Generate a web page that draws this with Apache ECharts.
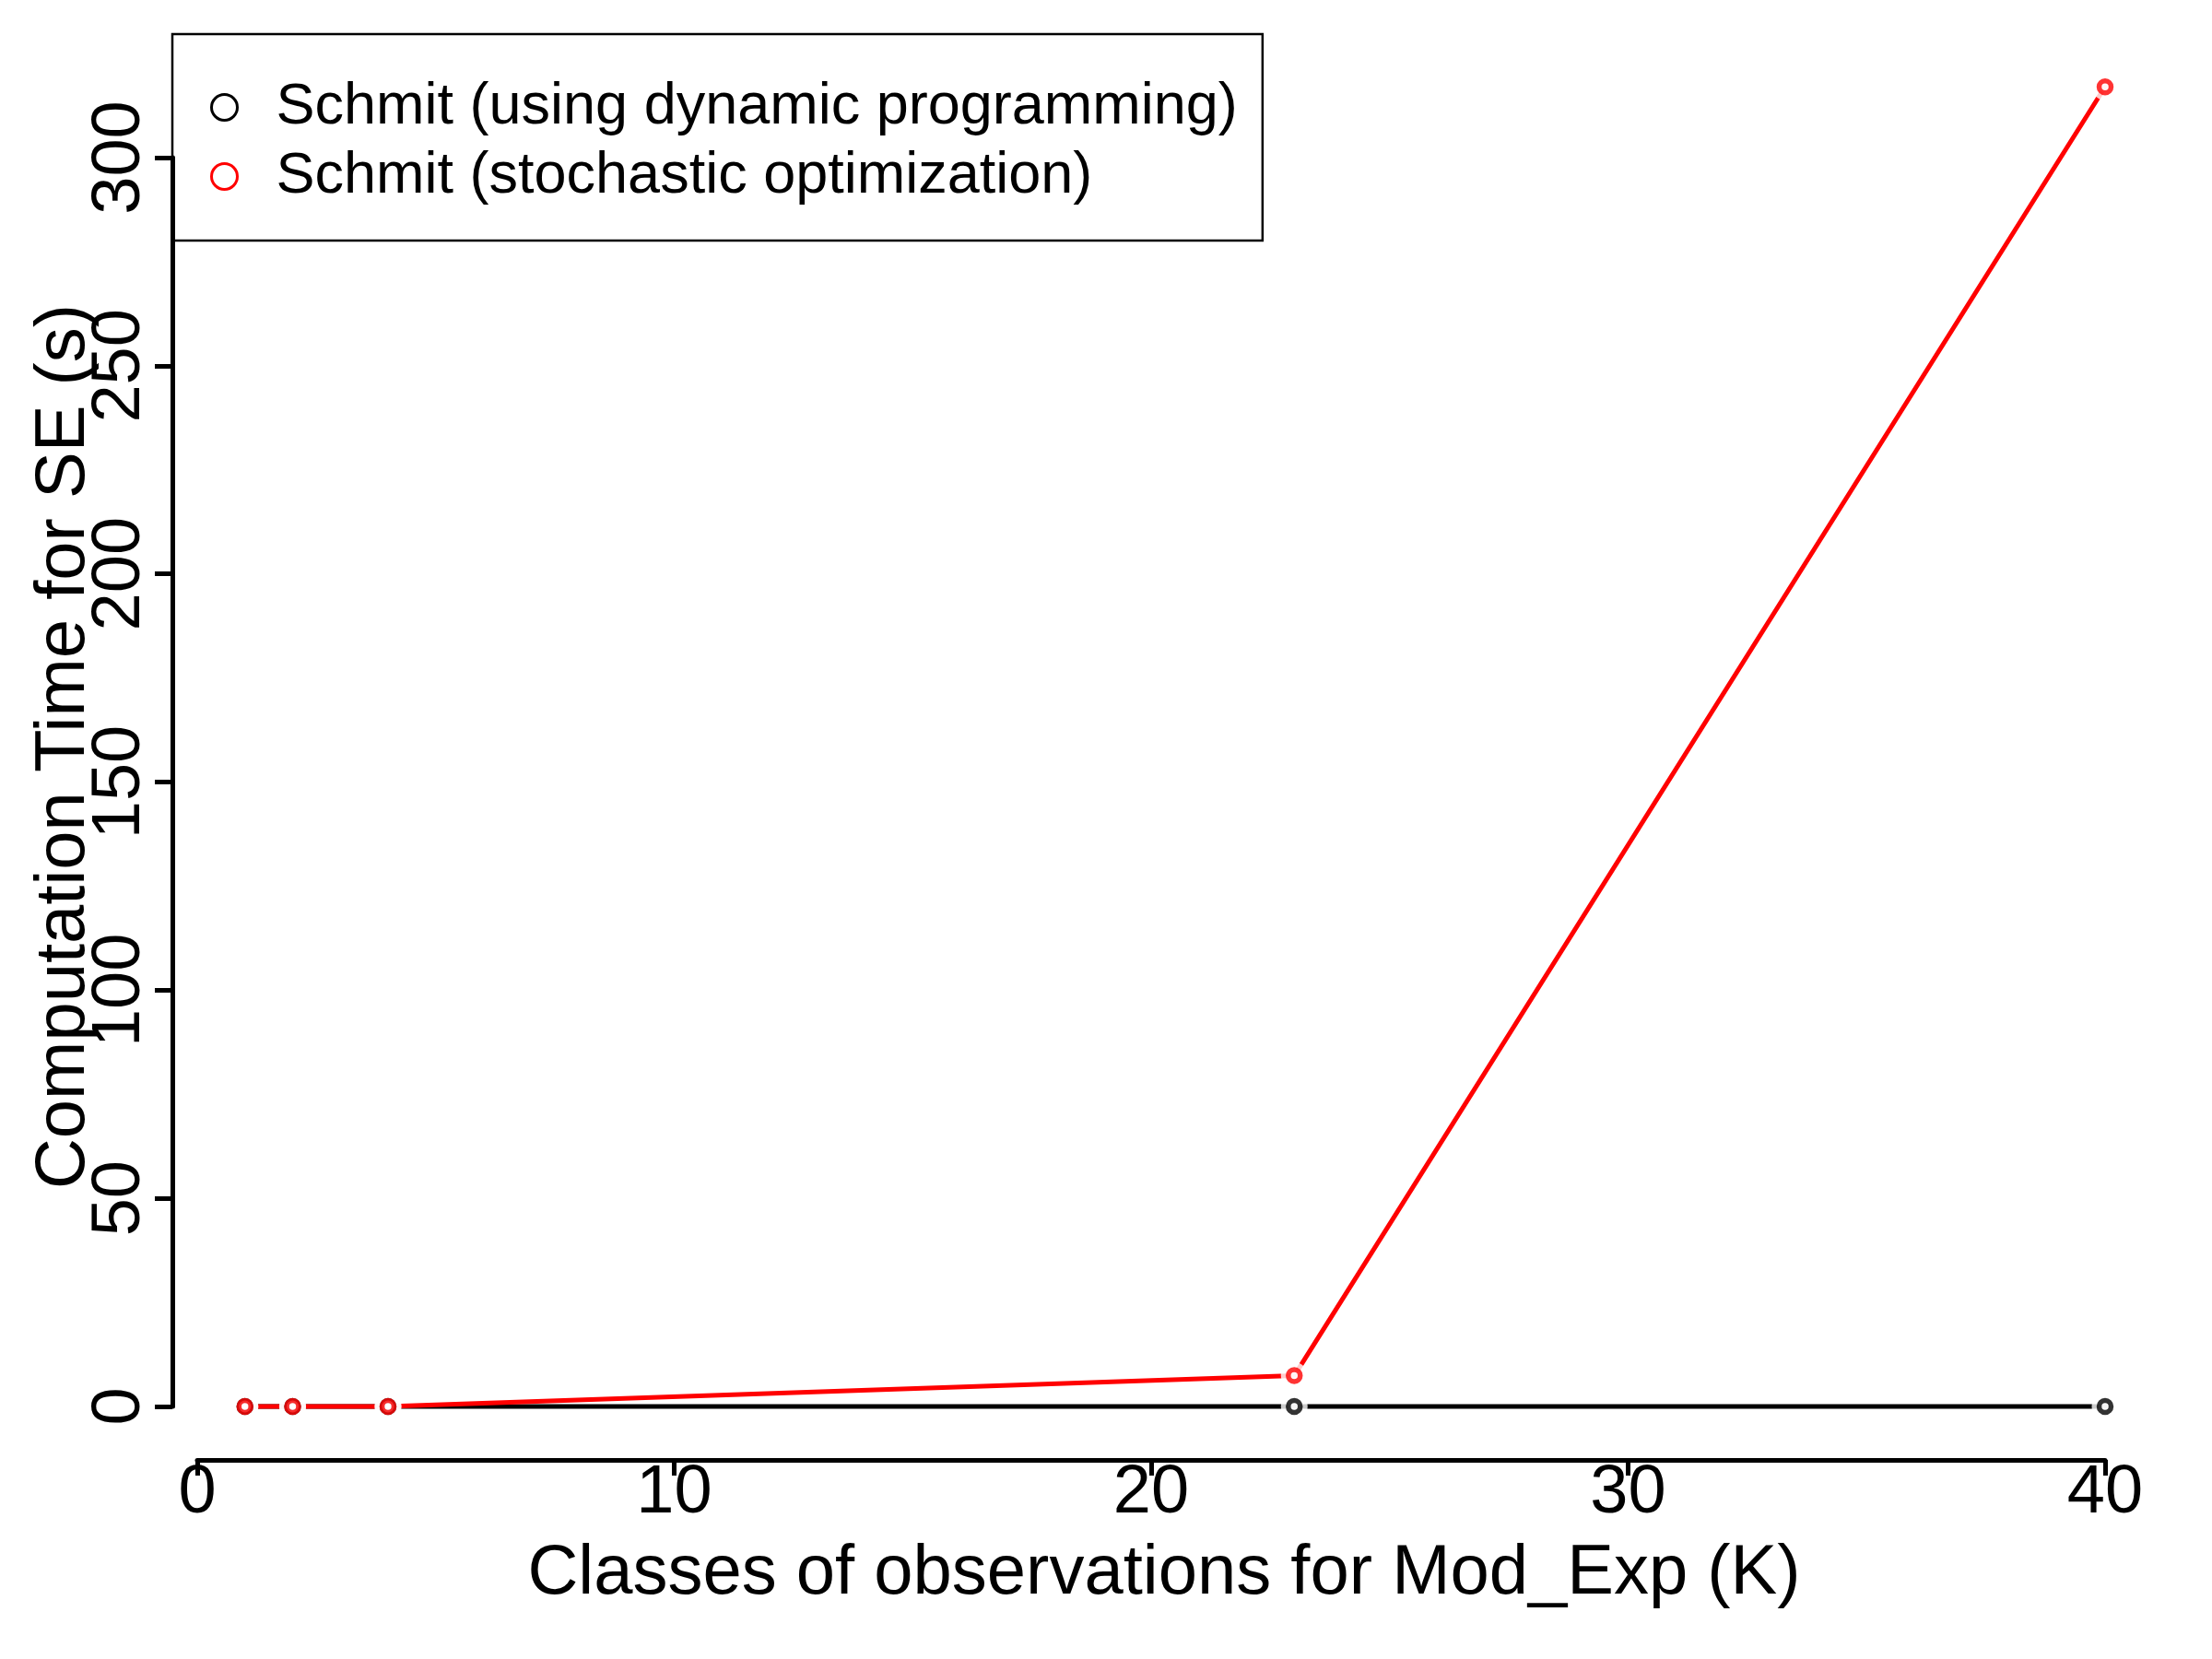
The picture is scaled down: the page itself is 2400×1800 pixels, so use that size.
<!DOCTYPE html>
<html>
<head>
<meta charset="utf-8">
<script src="https://cdn.jsdelivr.net/npm/echarts@6/dist/echarts.min.js"></script>
<style>
  html, body { margin: 0; padding: 0; background: #fff; }
  #chart { width: 2400px; height: 1800px; }
</style>
</head>
<body>
<div id="chart"></div>
<script>
// number of classes K
const classesK = [1, 2, 4, 23, 40];
// computation time (s)
const timeDynamic = [0, 0, 0, 0, 0];
const timeStochastic = [0, 0, 0, 7.4, 317];

const seriesNames = ['Schmit (using dynamic programming)', 'Schmit (stochastic optimization)'];
const seriesColors = ['#000000', '#ff0000'];

const FONT = 'Liberation Sans, Arial, Helvetica, sans-serif';

function toPairs(values) {
  return classesK.map((k, i) => [k, values[i]]);
}

// R type="b": line, white gap around each point, hollow point
function buildSeries(name, values, color) {
  const pts = toPairs(values);
  return [
    {
      name: name,
      type: 'line',
      z: 2,
      data: pts,
      showSymbol: false,
      clip: false,
      silent: true,
      lineStyle: { color: color, width: 5, cap: 'round' },
      itemStyle: { color: color }
    },
    {
      name: name,
      type: 'scatter',
      z: 3,
      data: pts,
      symbol: 'circle',
      symbolSize: 29,
      clip: false,
      silent: true,
      itemStyle: { color: '#ffffff', borderWidth: 0 }
    },
    {
      name: name,
      type: 'scatter',
      z: 4,
      data: pts,
      symbol: 'circle',
      symbolSize: 13,
      clip: false,
      silent: true,
      itemStyle: { color: '#ffffff', borderColor: color, borderWidth: 5.5 }
    }
  ];
}

const chart = echarts.init(document.getElementById('chart'));

const option = {
  animation: false,
  backgroundColor: '#ffffff',
  textStyle: { fontFamily: FONT },
  grid: {
    left: 214,
    right: 116,
    top: 171,
    bottom: 274,
    containLabel: false,
    outerBoundsMode: 'none'
  },
  legend: {
    orient: 'vertical',
    left: 187,
    top: 37,
    padding: [42, 27, 32, 41],
    itemWidth: 28,
    itemHeight: 28,
    itemGap: 0,
    borderColor: '#000',
    borderWidth: 2.5,
    selectedMode: false,
    textStyle: {
      fontFamily: FONT,
      fontSize: 63,
      lineHeight: 75,
      color: '#000',
      padding: [0, 0, 0, 37]
    },
    data: seriesNames.map((n, i) => ({
      name: n,
      icon: 'circle',
      itemStyle: { color: '#ffffff', borderColor: seriesColors[i], borderWidth: 3 }
    }))
  },
  xAxis: {
    type: 'value',
    min: 0,
    max: 40,
    interval: 10,
    offset: 58,
    name: 'Classes of observations for Mod_Exp (K)',
    nameLocation: 'middle',
    nameGap: 86,
    nameMoveOverlap: false,
    nameTextStyle: { fontFamily: FONT, fontSize: 76, color: '#000', padding: [0, 0, 0, 28] },
    axisLine: { show: true, onZero: false, lineStyle: { color: '#000', width: 5 } },
    axisTick: { show: true, length: 17, lineStyle: { color: '#000', width: 5 } },
    axisLabel: { fontFamily: FONT, fontSize: 74, color: '#000', margin: 0 },
    splitLine: { show: false }
  },
  yAxis: {
    type: 'value',
    min: 0,
    max: 300,
    interval: 50,
    offset: 27,
    name: 'Computation Time for SE (s)',
    nameLocation: 'middle',
    nameGap: 79,
    nameMoveOverlap: false,
    nameTextStyle: { fontFamily: FONT, fontSize: 76, color: '#000', padding: [0, 0, 0, 77] },
    axisLine: { show: true, onZero: false, lineStyle: { color: '#000', width: 5 } },
    axisTick: { show: true, length: 19, lineStyle: { color: '#000', width: 5 } },
    axisLabel: { fontFamily: FONT, fontSize: 74, color: '#000', rotate: 90, margin: 19 },
    splitLine: { show: false }
  },
  tooltip: { show: false },
  series: [
    ...buildSeries(seriesNames[0], timeDynamic, seriesColors[0]),
    ...buildSeries(seriesNames[1], timeStochastic, seriesColors[1])
  ]
};

chart.setOption(option);
</script>
</body>
</html>
